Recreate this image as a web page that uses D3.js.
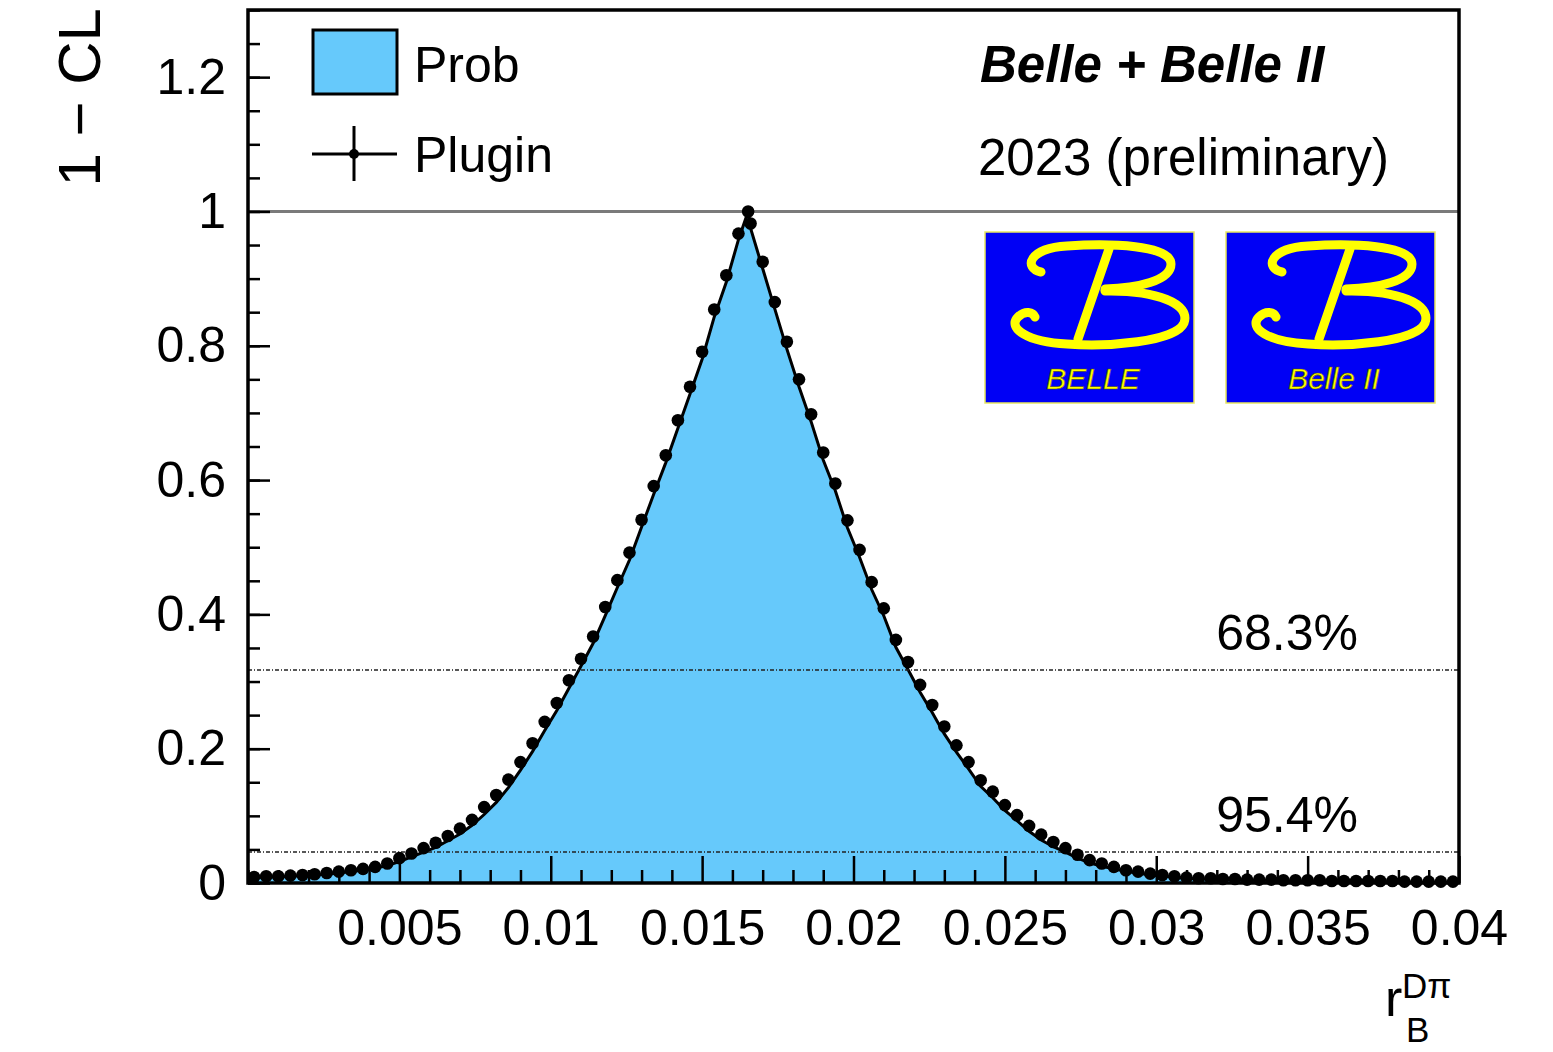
<!DOCTYPE html>
<html>
<head>
<meta charset="utf-8">
<script src="https://cdn.jsdelivr.net/npm/d3@7"></script>
<style>
  body { margin: 0; background: #fff; }
  svg text { font-family: 'Liberation Sans', Arial, Helvetica, sans-serif; fill: #000; }
  .axis .domain { display: none; }
  .axis line { stroke: #000; stroke-width: 2.5px; }
  .axis text { font-size: 50px; }
</style>
</head>
<body>
<div id="chart"></div>
<script>
// scan points (bin centres of r_B^{Dpi})
const scanX = [
  0.0002, 0.0006, 0.0010, 0.0014, 0.0018, 0.0022, 0.0026, 0.0030, 0.0034, 0.0038,
  0.0042, 0.0046, 0.0050, 0.0054, 0.0058, 0.0062, 0.0066, 0.0070, 0.0074, 0.0078,
  0.0082, 0.0086, 0.0090, 0.0094, 0.0098, 0.0102, 0.0106, 0.0110, 0.0114, 0.0118,
  0.0122, 0.0126, 0.0130, 0.0134, 0.0138, 0.0142, 0.0146, 0.0150, 0.0154, 0.0158,
  0.0162, 0.0166, 0.0170, 0.0174, 0.0178, 0.0182, 0.0186, 0.0190, 0.0194, 0.0198,
  0.0202, 0.0206, 0.0210, 0.0214, 0.0218, 0.0222, 0.0226, 0.0230, 0.0234, 0.0238,
  0.0242, 0.0246, 0.0250, 0.0254, 0.0258, 0.0262, 0.0266, 0.0270, 0.0274, 0.0278,
  0.0282, 0.0286, 0.0290, 0.0294, 0.0298, 0.0302, 0.0306, 0.0310, 0.0314, 0.0318,
  0.0322, 0.0326, 0.0330, 0.0334, 0.0338, 0.0342, 0.0346, 0.0350, 0.0354, 0.0358,
  0.0362, 0.0366, 0.0370, 0.0374, 0.0378, 0.0382, 0.0386, 0.0390, 0.0394, 0.0398
];

// 1 - CL, Prob method (filled histogram)
const probValues = [
  0.008, 0.009, 0.009, 0.010, 0.011, 0.012, 0.013, 0.015, 0.017, 0.019,
  0.022, 0.026, 0.032, 0.039, 0.046, 0.053, 0.063, 0.073, 0.086, 0.102,
  0.120, 0.142, 0.168, 0.196, 0.227, 0.257, 0.290, 0.323, 0.357, 0.398,
  0.440, 0.481, 0.530, 0.579, 0.626, 0.677, 0.728, 0.780, 0.843, 0.895,
  0.958, 0.975, 0.915, 0.855, 0.795, 0.739, 0.687, 0.630, 0.584, 0.529,
  0.485, 0.437, 0.398, 0.351, 0.318, 0.284, 0.254, 0.222, 0.195, 0.170,
  0.144, 0.127, 0.108, 0.093, 0.077, 0.064, 0.054, 0.046, 0.037, 0.030,
  0.025, 0.021, 0.017, 0.015, 0.012, 0.010, 0.009, 0.007, 0.006, 0.006,
  0.005, 0.005, 0.004, 0.004, 0.004, 0.003, 0.003, 0.003, 0.003, 0.002,
  0.002, 0.002, 0.002, 0.002, 0.002, 0.002, 0.001, 0.001, 0.001, 0.001
];

// 1 - CL, Plugin method (points)
const pluginValues = [
  0.009, 0.010, 0.010, 0.011, 0.012, 0.013, 0.015, 0.017, 0.019, 0.021,
  0.024, 0.029, 0.037, 0.044, 0.052, 0.060, 0.070, 0.081, 0.094, 0.113,
  0.131, 0.154, 0.180, 0.208, 0.240, 0.268, 0.302, 0.334, 0.367, 0.411,
  0.451, 0.492, 0.541, 0.591, 0.637, 0.689, 0.739, 0.791, 0.854, 0.905,
  0.967, 0.982, 0.925, 0.865, 0.806, 0.750, 0.698, 0.641, 0.595, 0.540,
  0.496, 0.448, 0.409, 0.362, 0.329, 0.295, 0.265, 0.233, 0.205, 0.180,
  0.153, 0.136, 0.116, 0.101, 0.085, 0.072, 0.061, 0.052, 0.042, 0.034,
  0.029, 0.024, 0.019, 0.017, 0.014, 0.012, 0.010, 0.008, 0.007, 0.007,
  0.006, 0.006, 0.005, 0.005, 0.005, 0.004, 0.004, 0.004, 0.004, 0.003,
  0.003, 0.003, 0.003, 0.003, 0.003, 0.002, 0.002, 0.002, 0.002, 0.002
];

// best fit point added to the scan
const bestFitX = 0.01652;
const bestFitCL = 1.0;

// confidence level lines
const clLevels = [0.317, 0.046];
const clLabels = ['68.3%', '95.4%'];

// axis ticks
const xTickValues = [0.005, 0.01, 0.015, 0.02, 0.025, 0.03, 0.035, 0.04];
const xTickLabels = ['0.005', '0.01', '0.015', '0.02', '0.025', '0.03', '0.035', '0.04'];
const yTickValues = [0, 0.2, 0.4, 0.6, 0.8, 1, 1.2];
const yTickLabels = ['0', '0.2', '0.4', '0.6', '0.8', '1', '1.2'];

const legendLabels = ['Prob', 'Plugin'];
const logoLabels = ['BELLE', 'Belle II'];

// ----------------------------------------
const W = 1553, H = 1052;
const margin = { top: 10, right: 94, bottom: 169, left: 248 };
const width = W - margin.left - margin.right;
const height = H - margin.top - margin.bottom;

const fillColor = '#66c9fb';

const svg = d3.select('#chart')
  .append('svg')
  .attr('width', W)
  .attr('height', H);

const g = svg.append('g')
  .attr('transform', `translate(${margin.left},${margin.top})`);

const x = d3.scaleLinear().domain([0, 0.04]).range([0, width]);
const y = d3.scaleLinear().domain([0, 1.3]).range([height, 0]);

// merge scan + best fit point
function withBest(vals) {
  const pts = scanX.map((v, i) => ({ x: v, y: vals[i] }));
  pts.push({ x: bestFitX, y: bestFitCL });
  return pts.sort((a, b) => a.x - b.x);
}
const probData = withBest(probValues);
const pluginData = withBest(pluginValues);

// Prob area
const area = d3.area()
  .x(d => x(d.x))
  .y0(y(0))
  .y1(d => y(d.y));

g.append('path')
  .datum(probData)
  .attr('fill', fillColor)
  .attr('d', area);

const line = d3.line()
  .x(d => x(d.x))
  .y(d => y(d.y));

g.append('path')
  .datum(probData)
  .attr('fill', 'none')
  .attr('stroke', '#000')
  .attr('stroke-width', 3)
  .attr('d', line);

// CL lines
g.selectAll('.cl-line')
  .data(clLevels)
  .enter().append('line')
  .attr('class', 'cl-line')
  .attr('x1', 0).attr('x2', width)
  .attr('y1', d => y(d)).attr('y2', d => y(d))
  .attr('stroke', '#222')
  .attr('stroke-width', 1.5)
  .attr('stroke-dasharray', '4,2,1,2');

g.selectAll('.cl-label')
  .data(clLevels)
  .enter().append('text')
  .attr('class', 'cl-label')
  .attr('x', 1358 - margin.left)
  .attr('y', d => y(d) - 20)
  .attr('text-anchor', 'end')
  .style('font-size', '50px')
  .text((d, i) => clLabels[i]);

// line at 1 - CL = 1
g.append('line')
  .attr('x1', 0).attr('x2', width)
  .attr('y1', y(1)).attr('y2', y(1))
  .attr('stroke', '#7a7a7a')
  .attr('stroke-width', 3);

// Plugin points
g.selectAll('.pt')
  .data(pluginData)
  .enter().append('circle')
  .attr('class', 'pt')
  .attr('cx', d => x(d.x))
  .attr('cy', d => y(d.y))
  .attr('r', 6.3)
  .attr('fill', '#000');

// Axes
const xMinor = d3.range(0, 41).map(i => i * 0.001).filter(v => xTickValues.indexOf(+v.toFixed(3)) < 0);
g.append('g')
  .attr('class', 'axis')
  .attr('transform', `translate(0,${height})`)
  .call(d3.axisBottom(x).tickValues(xMinor).tickSize(-13).tickFormat(''));
g.append('g')
  .attr('class', 'axis')
  .attr('transform', `translate(0,${height})`)
  .call(d3.axisBottom(x).tickValues(xTickValues).tickSize(-27).tickPadding(26)
    .tickFormat((d, i) => xTickLabels[i]));

const yMinor = d3.range(0, 27).map(i => i * 0.05);
g.append('g')
  .attr('class', 'axis')
  .call(d3.axisLeft(y).tickValues(yMinor).tickSize(-12).tickFormat(''));
g.append('g')
  .attr('class', 'axis')
  .call(d3.axisLeft(y).tickValues(yTickValues).tickSize(-22).tickPadding(22)
    .tickFormat((d, i) => yTickLabels[i]));

// Frame
g.append('rect')
  .attr('x', 0).attr('y', 0)
  .attr('width', width).attr('height', height)
  .attr('fill', 'none')
  .attr('stroke', '#000')
  .attr('stroke-width', 3.5);

// Axis titles
svg.append('text')
  .attr('transform', 'translate(100,8) rotate(-90)')
  .attr('text-anchor', 'end')
  .style('font-size', '60px')
  .text('1 \u2212 CL');

const xt = svg.append('g');
xt.append('text').attr('x', 1385).attr('y', 1016).style('font-size', '52px').text('r');
xt.append('text').attr('x', 1402).attr('y', 998).style('font-size', '35px').text('D\u03c0');
xt.append('text').attr('x', 1406).attr('y', 1042).style('font-size', '35px').text('B');

// Legend
const leg = svg.append('g');
leg.append('rect')
  .attr('x', 313).attr('y', 30).attr('width', 84).attr('height', 64)
  .attr('fill', fillColor).attr('stroke', '#000').attr('stroke-width', 3);
leg.append('line').attr('x1', 312).attr('x2', 397).attr('y1', 154).attr('y2', 154)
  .attr('stroke', '#000').attr('stroke-width', 3);
leg.append('line').attr('x1', 354).attr('x2', 354).attr('y1', 126).attr('y2', 181)
  .attr('stroke', '#000').attr('stroke-width', 3);
leg.append('circle').attr('cx', 354).attr('cy', 154).attr('r', 5).attr('fill', '#000');
leg.selectAll('.leg-text')
  .data(legendLabels)
  .enter().append('text')
  .attr('x', 414)
  .attr('y', (d, i) => 82 + i * 90)
  .style('font-size', '50px')
  .text(d => d);

// Experiment label
svg.append('text')
  .attr('x', 980).attr('y', 82)
  .style('font-size', '51px')
  .style('font-weight', 'bold')
  .style('font-style', 'italic')
  .text('Belle + Belle II');
svg.append('text')
  .attr('x', 978).attr('y', 175)
  .style('font-size', '51px')
  .text('2023 (preliminary)');

// Logos
const logoX = [985, 1226];
logoX.forEach((lx, i) => {
  const lg = svg.append('g').attr('transform', `translate(${lx},232)`);
  lg.append('rect').attr('width', 209).attr('height', 171)
    .attr('fill', '#0000f5').attr('stroke', '#e8e860').attr('stroke-width', 1.5);
  const bStroke = p => lg.append('path').attr('d', p)
    .attr('fill', 'none').attr('stroke', '#ffff00')
    .attr('stroke-width', 9).attr('stroke-linecap', 'round');
  bStroke('M56,40 C38,36 44,16 82,14 C125,11 186,13 186,32 C186,49 152,56 120,57');
  bStroke('M120,59 C172,58 206,72 199,91 C191,110 122,115 82,112 C42,110 22,96 33,85 C40,78 48,80 50,85');
  bStroke('M124,17 L93,107');
  lg.append('text')
    .attr('x', 108).attr('y', 157)
    .attr('text-anchor', 'middle')
    .style('font-size', '30px')
    .style('font-style', 'italic')
    .style('fill', '#ffff00')
    .style('stroke', '#555500')
    .style('stroke-width', 0.6)
    .text(logoLabels[i]);
});
</script>
</body>
</html>
